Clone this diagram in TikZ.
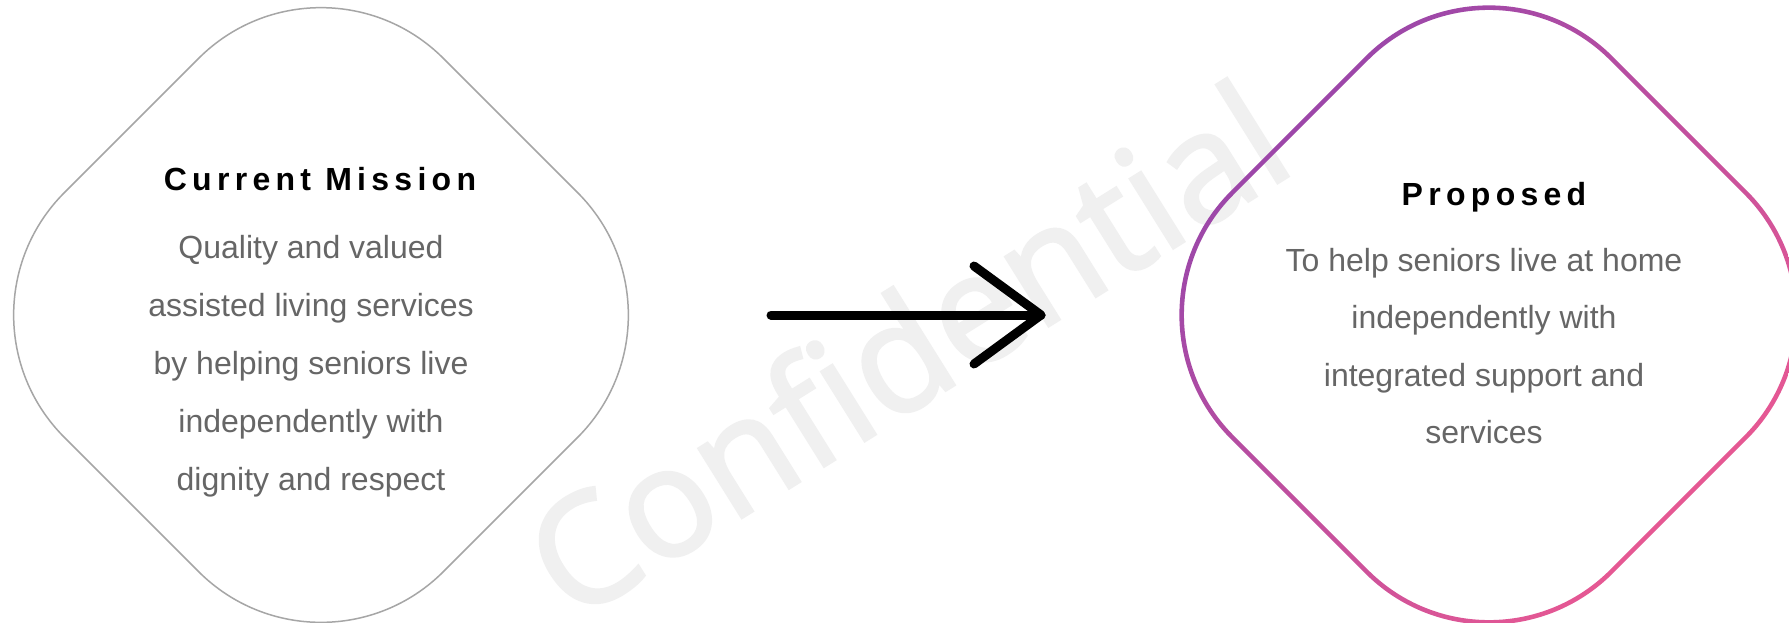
\documentclass[tikz,border=0pt]{standalone}
\usepackage{fontspec}
\setmainfont{Liberation Sans}
\newfontfamily\wmfont[FakeBold=2]{Open Sans}
\newfontfamily\titlefont[LetterSpace=16.5]{Liberation Sans}
\definecolor{bodygray}{HTML}{666666}
\definecolor{edgegray}{HTML}{A6A6A6}
\definecolor{mpurple}{HTML}{8E44AD}
\definecolor{mpink}{HTML}{F45B8F}
\definecolor{wmgray}{HTML}{F0F0F0}
\begin{document}
\begin{tikzpicture}[x=0.5pt,y=-0.5pt,
  titletext/.style={font=\titlefont\bfseries\fontsize{16}{19}\selectfont, text=black, inner sep=0pt},
  bodytext/.style={font=\fontsize{16}{29}\selectfont, text=bodygray, align=center, inner sep=0pt},
  diamondbox/.style={rectangle, rotate=45, minimum width=268pt, minimum height=268pt, rounded corners=86.5pt, inner sep=0pt},
  arrowline/.style={line width=4.5pt, line cap=round, line join=round, black},
  watermark/.style={font=\wmfont\fontsize{76}{80}\selectfont, text=wmgray, rotate=32, inner sep=0pt}]
\useasboundingbox (0,0) rectangle (1789,622);
\fill[white] (0,0) rectangle (1789,622);
% watermark
\node[watermark] (wm) at (905,348) {Confidential};
% left shape
\node[diamondbox, draw=edgegray, line width=0.75pt] (L) at (321,315) {};
% right shape (gradient ring)
\node[diamondbox] (R) at (1489,315) {};
\path[shade, even odd rule, top color=mpurple, bottom color=mpink, shading angle=45]
  [rounded corners=87.6pt] (1489,-67.2) -- (1871.2,315) -- (1489,697.2) -- (1106.8,315) -- cycle
  [rounded corners=85.4pt] (1489,-60.8) -- (1864.8,315) -- (1489,690.8) -- (1113.2,315) -- cycle;
% texts
\node[titletext] (Lt) at (320,179) {Current Mission};
\node[bodytext] (Lb) at (311,366) {Quality and valued\\assisted living services\\by helping seniors live\\independently with\\dignity and respect};
\node[titletext] (Rt) at (1494,197) {Proposed};
\node[bodytext, font=\fontsize{16}{28.75}\selectfont] (Rb) at (1484,346) {To help seniors live at home\\independently with\\integrated support and\\services};
% arrow
\coordinate (as) at (771,315);
\coordinate (at) at (1041,315);
\coordinate (ah1) at (974,266);
\coordinate (ah2) at (974,364);
\draw[arrowline] (as) -- (at);
\draw[arrowline] (ah1) -- (at) -- (ah2);
\end{tikzpicture}
\end{document}
